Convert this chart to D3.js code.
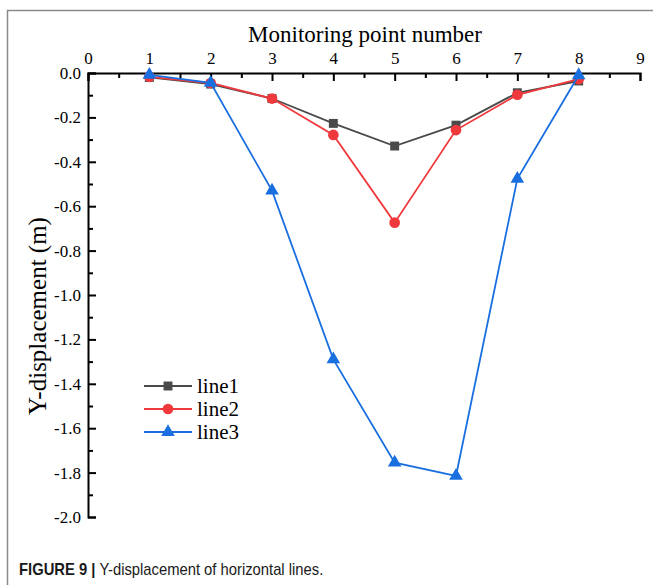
<!DOCTYPE html>
<html lang="en">
<head>
    <meta charset="UTF-8">
    <title>Y-displacement of horizontal lines</title>
    <script src="https://cdnjs.cloudflare.com/ajax/libs/d3/7.9.0/d3.min.js"></script>
    <style>
        body { margin: 0; background: #fff; }
    </style>
</head>
<body>
    <svg width="653" height="585"></svg>

    <script>
        // Data: monitoring points and Y-displacement (m)
        let points = [1, 2, 3, 4, 5, 6, 7, 8];
        let line1 = [-0.02, -0.05, -0.115, -0.227, -0.329, -0.235, -0.089, -0.036];
        let line2 = [-0.017, -0.045, -0.115, -0.279, -0.674, -0.257, -0.098, -0.028];
        let line3 = [-0.008, -0.044, -0.53, -1.29, -1.755, -1.815, -0.477, -0.01];
        let seriesNames = ["line1", "line2", "line3"];
        let xTicks = [0, 1, 2, 3, 4, 5, 6, 7, 8, 9];
        let yTicks = [0, -0.2, -0.4, -0.6, -0.8, -1.0, -1.2, -1.4, -1.6, -1.8, -2.0];

        let svg = d3.select("svg");

        // frame of the figure panel
        svg.append("path")
            .attr("d", "M7.5,585 V10.5 H653")
            .attr("fill", "none")
            .attr("stroke", "#8a8a8a")
            .attr("stroke-width", 1.5);

        // scales
        let xScale = d3.scaleLinear().domain([0, 9]).range([88, 640]);
        let yScale = d3.scaleLinear().domain([0, -2]).range([73, 517]);

        let serif = "'Liberation Serif', 'Times New Roman', serif";
        // hyphen instead of the unicode minus, as in the figure
        let yFormat = d => d3.format(".1f")(d).replace("\u2212", "-");

        // top x axis (ticks pointing into the plot)
        let xAxis = svg.append("g")
            .attr("transform", "translate(0," + yScale(0) + ")")
            .call(d3.axisTop(xScale).tickValues(xTicks).tickSize(-8).tickPadding(9).tickFormat(d3.format("d")));
        svg.append("g")
            .attr("transform", "translate(0," + yScale(0) + ")")
            .call(d3.axisTop(xScale).tickValues(d3.range(0.5, 9, 1)).tickSize(-5).tickFormat(""))
            .select(".domain").remove();

        // left y axis
        let yAxis = svg.append("g")
            .attr("transform", "translate(" + xScale(0) + ",0)")
            .call(d3.axisLeft(yScale).tickValues(yTicks).tickSize(-8).tickPadding(7).tickFormat(yFormat));
        svg.append("g")
            .attr("transform", "translate(" + xScale(0) + ",0)")
            .call(d3.axisLeft(yScale).tickValues(d3.range(-0.1, -2, -0.2)).tickSize(-5).tickFormat(""))
            .select(".domain").remove();

        svg.selectAll(".domain").attr("stroke", "#000").attr("stroke-width", 2);
        svg.selectAll(".tick line").attr("stroke", "#000").attr("stroke-width", 2);
        svg.selectAll(".tick text")
            .style("font-family", serif)
            .style("font-size", "17px")
            .attr("fill", "#000");
        xAxis.selectAll(".tick text").attr("dy", "0");

        // axis titles
        svg.append("text")
            .attr("x", 365)
            .attr("y", 42)
            .attr("text-anchor", "middle")
            .attr("font-family", serif)
            .attr("font-size", "23px")
            .text("Monitoring point number");

        svg.append("text")
            .attr("transform", "translate(46,316) rotate(-90)")
            .attr("text-anchor", "middle")
            .attr("font-family", serif)
            .attr("font-size", "25px")
            .text("Y-displacement (m)");

        // series
        let series = [
            { name: seriesNames[0], values: line1, color: "#4a4a4a", symbol: d3.symbolSquare, size: 80 },
            { name: seriesNames[1], values: line2, color: "#f0393d", symbol: d3.symbolCircle, size: 90 },
            { name: seriesNames[2], values: line3, color: "#1a6fe0", symbol: d3.symbolTriangle, size: 80 }
        ];

        let line = d3.line()
            .x((d, i) => xScale(points[i]))
            .y(d => yScale(d));

        series.forEach(s => {
            svg.append("path")
                .attr("d", line(s.values))
                .attr("fill", "none")
                .attr("stroke", s.color)
                .attr("stroke-width", 1.8);

            s.values.forEach((v, i) => {
                svg.append("path")
                    .attr("d", d3.symbol().type(s.symbol).size(s.size)())
                    .attr("transform", "translate(" + xScale(points[i]) + "," + yScale(v) + ")")
                    .attr("fill", s.color);
            });
        });

        // legend
        series.forEach((s, i) => {
            let ly = 386 + i * 23;
            svg.append("line")
                .attr("x1", 144).attr("x2", 192)
                .attr("y1", ly).attr("y2", ly)
                .attr("stroke", s.color)
                .attr("stroke-width", 1.8);
            svg.append("path")
                .attr("d", d3.symbol().type(s.symbol).size(s.size)())
                .attr("transform", "translate(168," + ly + ")")
                .attr("fill", s.color);
            svg.append("text")
                .attr("x", 197)
                .attr("y", ly + 7)
                .attr("font-family", serif)
                .attr("font-size", "21px")
                .text(s.name);
        });

        // caption (condensed sans, as in the journal layout)
        let caption = svg.append("text")
            .attr("transform", "translate(19,575) scale(0.87,1)")
            .attr("font-family", "'Liberation Sans', Arial, sans-serif")
            .attr("font-size", "17px")
            .attr("fill", "#1a1a1a");
        caption.append("tspan").attr("font-weight", "bold").text("FIGURE 9 | ");
        caption.append("tspan").text("Y-displacement of horizontal lines.");
    </script>
</body>
</html>
